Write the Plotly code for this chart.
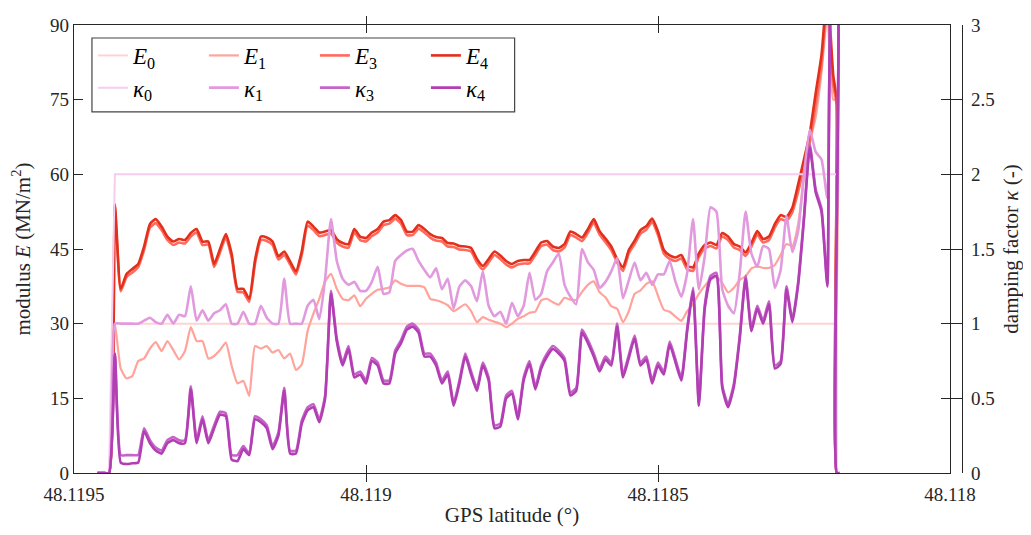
import numpy as np
import plotly.graph_objects as go

# GPS latitude sampling (regular GPS track samples) plus the end of the record
lat_start = 48.11946
lat_step = 1e-5
n_main = 127
lat_tail = [48.118194, 48.118194, 48.118189]
lat = list(np.round(lat_start - lat_step * np.arange(n_main), 7)) + lat_tail

E0 = [0, 0, 0] + [30] * 124 + [30, 0, 0]

E1 = [0, 0, 0, 30, 21, 19, 19.5, 22.5, 23, 25,
      26.3, 24.5, 26.5, 24.7, 22.8, 24.5, 29.3, 26.5, 26.5, 23,
      23.5, 24.7, 26.2, 21.5, 18, 18.5, 15.5, 25.5, 25, 25.5,
      24.2, 24.7, 23, 24, 20.7, 21.8, 28.5, 32, 35, 38.5,
      40, 37, 35, 34.7, 35.7, 33.5, 35, 36, 36.8, 37,
      37.3, 38.7, 38, 37.6, 37.6, 37.6, 37.3, 35, 34.7, 34.3,
      33.7, 32.5, 33.2, 33.9, 32.5, 30.3, 31.3, 30.8, 30.4, 30,
      29.3, 30, 31, 31.5, 32.2, 32.4, 34.7, 35, 34.3, 33.8,
      35.2, 34.8, 34.8, 36.4, 37.8, 38.5, 36.3, 35.3, 33.5, 33,
      30.3, 32.5, 36, 36.7, 38, 38.5, 35.6, 32.8, 32.4, 31.4,
      30.6, 32.5, 34, 36, 37.6, 38.8, 39.4, 38.2, 36.3, 37.2,
      38.8, 39.5, 41.1, 41.5, 41.2, 41.2, 41.8, 43.8, 46, 45.6,
      50, 59.5, 66.5, 71.5, 80.5, 92, 75,
      75, 0, 0]

E3 = [0, 0, 0, 53, 36.5, 39.4, 40.3, 41.4, 44.8, 49.3,
      50.2, 48.8, 46.8, 45.8, 46.3, 46.1, 47.5, 48.3, 45.8, 45.9,
      41.4, 44.3, 47.3, 43.3, 36.4, 36.3, 34.4, 42.1, 46.8, 46.6,
      45.8, 42.9, 43.8, 41.9, 39.9, 43.8, 49.7, 48.8, 47.6, 47.8,
      48.1, 46.3, 45.5, 45.3, 48.3, 46.8, 46.5, 47.6, 48.3, 49.8,
      50.1, 51.1, 50.1, 47.8, 47.8, 49.1, 48.3, 47.3, 46.7, 46.5,
      45.5, 45.4, 44.9, 44.8, 44.5, 42.3, 40.9, 42.3, 43.8, 43,
      41.9, 41.3, 41.9, 42.1, 42.1, 43.8, 45.6, 45.9, 44.8, 44.5,
      45.3, 47.8, 47.3, 46.6, 48.3, 50.3, 47.9, 46.4, 44.8, 42.3,
      40.6, 44.1, 46, 48.1, 48.9, 50.4, 47.8, 44.1, 43, 42.6,
      43.1, 40.9, 40.6, 43.4, 45.1, 45.6, 45.1, 47.5, 46.8, 45.3,
      44.8, 43.6, 45.5, 47.9, 46.3, 46.8, 49.3, 51, 50.6, 52.4,
      56.5, 61.5, 66.5, 74, 82, 95, 78,
      74, 0, 0]

E4 = [0, 0, 0, 54, 37, 40, 41, 42, 45.5, 50,
      51, 49.5, 47.5, 46.5, 47, 46.8, 48.2, 49, 46.5, 46.5,
      42, 45, 48, 44, 37, 37, 35, 42.8, 47.5, 47.3,
      46.5, 43.5, 44.5, 42.5, 40.5, 44.5, 50.5, 49.5, 48.3, 48.5,
      48.8, 47, 46.2, 46, 49, 47.5, 47.2, 48.3, 49, 50.5,
      50.8, 51.8, 50.8, 48.5, 48.5, 49.8, 49, 48, 47.4, 47.2,
      46.2, 46.1, 45.6, 45.5, 45.2, 43, 41.6, 43, 44.5, 43.7,
      42.6, 42, 42.6, 42.8, 42.8, 44.5, 46.3, 46.6, 45.5, 45.2,
      46, 48.5, 48, 47.3, 49, 51, 48.6, 47.1, 45.5, 43,
      41.3, 44.8, 46.7, 48.8, 49.6, 51.1, 48.5, 44.8, 43.7, 43.3,
      43.8, 41.6, 41.3, 44.1, 45.8, 46.3, 45.8, 48.2, 47.5, 46,
      45.5, 44.3, 46.2, 48.6, 47, 47.5, 50, 51.8, 51.4, 53.3,
      58, 63, 68.3, 76.3, 84, 97, 80,
      75, 0, 0]

K0 = [0, 0, 0] + [2] * 124 + [2, 0, 0]

K1 = [0, 0, 0, 1, 1, 1, 1, 1, 1.02, 1.04,
      1.01, 1, 1.06, 1, 1.06, 1.05, 1.25, 1.02, 1.09, 1.02,
      1.07, 1.09, 1.13, 1, 1, 1.08, 1, 1, 1.12, 1.04,
      1, 1, 1.3, 1, 1, 1, 1.12, 1.16, 1.03, 1.3,
      1.7, 1.42, 1.3, 1.26, 1.28, 1.22, 1.22, 1.28, 1.38, 1.2,
      1.21, 1.42, 1.46, 1.49, 1.5, 1.42, 1.36, 1.31, 1.37, 1.23,
      1.3, 1.1, 1.25, 1.29, 1.25, 1.15, 1.35, 1.12, 1.05, 1.08,
      1, 1.14, 1.05, 1.12, 1.34, 1.16, 1.2, 1.35, 1.41, 1.47,
      1.26, 1.18, 1.13, 1.5, 1.41, 1.36, 1.24, 1.28, 1.35, 1.44,
      1.17, 1.29, 1.41, 1.29, 1.34, 1.26, 1.33, 1.33, 1.42, 1.28,
      1.18, 1.34, 1.7, 1.23, 1.45, 1.78, 1.75, 1.23, 1.12, 1.07,
      1.34, 1.75, 1.47, 1.38, 1.52, 1.5, 1.24, 1.36, 1.72, 1.48,
      1.62, 2.0, 2.3, 2.15, 2.1, 1.84, 3.5,
      3.5, 0, 0]

K3 = [0, 0, 0, 0.8, 0.12, 0.12, 0.12, 0.12, 0.3, 0.22,
      0.17, 0.15, 0.22, 0.24, 0.22, 0.22, 0.58, 0.22, 0.38, 0.22,
      0.32, 0.41, 0.4, 0.12, 0.12, 0.18, 0.13, 0.38, 0.36, 0.32,
      0.18, 0.27, 0.57, 0.15, 0.15, 0.35, 0.44, 0.46, 0.36, 0.52,
      1.22, 0.9, 0.74, 0.85, 0.66, 0.68, 0.62, 0.77, 0.74, 0.62,
      0.62, 0.82, 0.89, 0.98, 1.0, 0.96, 0.8, 0.8, 0.74, 0.62,
      0.68, 0.47, 0.62, 0.8, 0.68, 0.57, 0.74, 0.64, 0.32, 0.33,
      0.52, 0.55, 0.38, 0.64, 0.75, 0.58, 0.72, 0.8, 0.85, 0.82,
      0.77, 0.54, 0.57, 0.96, 0.89, 0.8, 0.7, 0.78, 0.74, 1.0,
      0.66, 0.79, 0.92, 0.74, 0.78, 0.62, 0.74, 0.68, 0.88, 0.76,
      0.64, 0.97, 1.24, 0.47, 1.12, 1.32, 1.34, 0.59, 0.46, 0.6,
      0.92, 1.32, 0.97, 1.12, 1.02, 1.15, 0.72, 0.75, 1.25, 1.03,
      1.28, 1.72, 2.2, 1.9, 1.77, 1.27, 3.5,
      3.5, 0, 0]

K4 = [0, 0, 0, 0.8, 0.07, 0.06, 0.065, 0.07, 0.28, 0.2,
      0.15, 0.13, 0.2, 0.22, 0.2, 0.2, 0.56, 0.2, 0.36, 0.2,
      0.3, 0.39, 0.38, 0.09, 0.08, 0.16, 0.12, 0.36, 0.34, 0.3,
      0.16, 0.25, 0.55, 0.13, 0.13, 0.33, 0.42, 0.44, 0.34, 0.5,
      1.2, 0.88, 0.72, 0.83, 0.64, 0.66, 0.6, 0.75, 0.72, 0.6,
      0.6, 0.8, 0.87, 0.96, 0.98, 0.94, 0.78, 0.78, 0.72, 0.6,
      0.66, 0.45, 0.6, 0.78, 0.66, 0.55, 0.72, 0.62, 0.3, 0.31,
      0.5, 0.53, 0.36, 0.62, 0.73, 0.56, 0.7, 0.78, 0.83, 0.8,
      0.75, 0.52, 0.55, 0.94, 0.87, 0.78, 0.68, 0.76, 0.72, 0.98,
      0.64, 0.77, 0.9, 0.72, 0.76, 0.6, 0.72, 0.66, 0.86, 0.74,
      0.62, 0.95, 1.22, 0.45, 1.1, 1.3, 1.32, 0.57, 0.44, 0.58,
      0.9, 1.3, 0.95, 1.1, 1.0, 1.13, 0.7, 0.73, 1.23, 1.01,
      1.26, 1.7, 2.18, 1.88, 1.75, 1.25, 3.5,
      3.5, 0, 0]

x_ticks = [48.1195, 48.119, 48.1185, 48.118]
x_ticklabels = ["48.1195", "48.119", "48.1185", "48.118"]
y_ticks = [0, 15, 30, 45, 60, 75, 90]
y2_ticks = [0, 0.5, 1, 1.5, 2, 2.5, 3]
y2_ticklabels = ["0", "0.5", "1", "1.5", "2", "2.5", "3"]

E_series = [("<i>E</i><sub>0</sub>", E0, "#ffd3d3", 2.0, False),
            ("<i>E</i><sub>1</sub>", E1, "#ffa39b", 2.2, True),
            ("<i>E</i><sub>3</sub>", E3, "#ff6a5c", 2.6, True),
            ("<i>E</i><sub>4</sub>", E4, "#e2301c", 2.6, True)]
K_series = [("<i>κ</i><sub>0</sub>", K0, "#f6ccef", 2.0, False),
            ("<i>κ</i><sub>1</sub>", K1, "#e29ade", 2.6, True),
            ("<i>κ</i><sub>3</sub>", K3, "#c663c6", 2.6, True),
            ("<i>κ</i><sub>4</sub>", K4, "#b23eb4", 2.6, True)]

FONT = '"Liberation Serif", "DejaVu Serif", serif'
INK = "#262626"


def line_style(col, w, smooth):
    if smooth:
        return dict(color=col, width=w, shape="spline", smoothing=0.5)
    return dict(color=col, width=w)


fig = go.Figure()
for name, vals, col, w, sm in E_series:
    fig.add_trace(go.Scatter(x=lat, y=vals, mode="lines", name=name,
                             line=line_style(col, w, sm), legend="legend",
                             yaxis="y"))
for name, vals, col, w, sm in K_series:
    fig.add_trace(go.Scatter(x=lat, y=vals, mode="lines", name=name,
                             line=line_style(col, w, sm), legend="legend2",
                             yaxis="y2"))

# the page body adds an 8 px margin, so the figure is 16 px smaller
fig.update_layout(
    width=1015, height=519,
    margin=dict(l=66, r=73, t=17, b=54, autoexpand=False),
    paper_bgcolor="white", plot_bgcolor="white",
    font=dict(family=FONT, size=19, color=INK),
    xaxis=dict(range=[48.1195, 48.118], tickvals=x_ticks, ticktext=x_ticklabels,
               automargin=False,
               showgrid=False, zeroline=False, showline=True, linecolor=INK,
               linewidth=1.2, mirror="allticks", ticks="inside", ticklen=8,
               tickcolor=INK, ticklabelstandoff=4,
               tickfont=dict(family=FONT, size=19, color=INK),
               title=dict(text="GPS latitude (°)",
                          font=dict(family=FONT, size=21, color=INK),
                          standoff=12)),
    yaxis=dict(range=[0, 90], tickvals=y_ticks, showgrid=False, zeroline=False,
               automargin=False,
               showline=True, linecolor=INK, linewidth=1.2, mirror="allticks",
               ticks="inside", ticklen=9, tickcolor=INK,
               tickfont=dict(family=FONT, size=19, color=INK),
               title=dict(text="modulus <i>E</i> (MN/m<sup>2</sup>)",
                          font=dict(family=FONT, size=21, color=INK), standoff=15)),
    yaxis2=dict(range=[0, 3], tickvals=y2_ticks, ticktext=y2_ticklabels,
                overlaying="y", side="right", anchor="free", position=1,
                shift=12, automargin=False,
                showgrid=False, zeroline=False, showline=True,
                linecolor=INK, linewidth=1.2, ticks="inside", ticklen=12,
                tickcolor=INK, ticklabelstandoff=4,
                tickfont=dict(family=FONT, size=19, color=INK),
                title=dict(text="damping factor <i>κ</i> (-)",
                           font=dict(family=FONT, size=21, color=INK), standoff=18)),
    legend=dict(orientation="h", x=0.0216, xanchor="left", y=0.932,
                yanchor="middle", entrywidth=66, entrywidthmode="pixels",
                bgcolor="rgba(0,0,0,0)",
                font=dict(family=FONT, size=23, color="black"),
                tracegroupgap=0, itemwidth=30),
    legend2=dict(orientation="h", x=0.0216, xanchor="left", y=0.860,
                 yanchor="middle", entrywidth=66, entrywidthmode="pixels",
                 bgcolor="rgba(0,0,0,0)",
                 font=dict(family=FONT, size=23, color="black"),
                 tracegroupgap=0, itemwidth=30),
    shapes=[dict(type="rect", xref="paper", yref="paper",
                 x0=0.0205, x1=0.503, y0=0.806, y1=0.971,
                 line=dict(color="#444444", width=1.2),
                 fillcolor="white", layer="below")],
)

fig.write_html("out.html")
